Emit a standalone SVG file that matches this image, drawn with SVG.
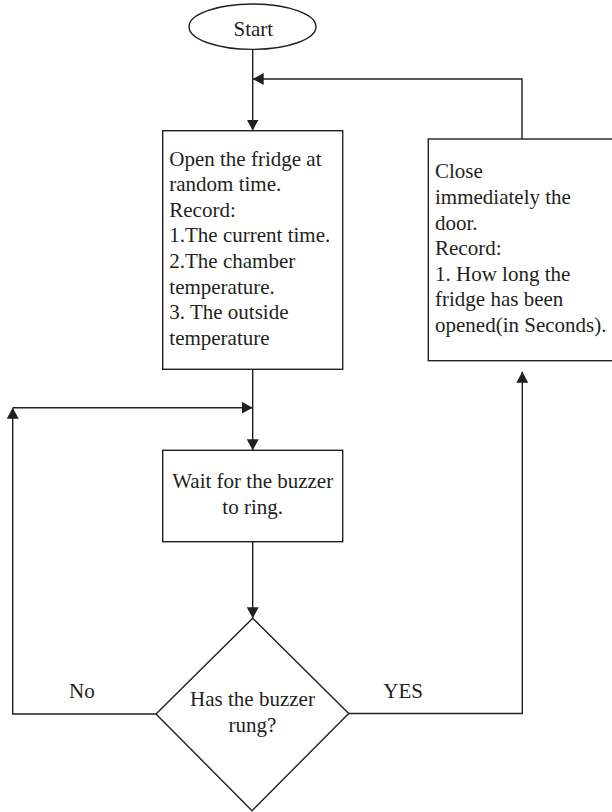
<svg xmlns="http://www.w3.org/2000/svg" width="612" height="812" viewBox="0 0 612 812">
<style>
.shape{fill:#fff;stroke:#231f20;stroke-width:1.4}
.conn{fill:none;stroke:#231f20;stroke-width:1.4}
.t{font-family:"Liberation Serif","Times New Roman",serif;font-size:21px;fill:#231f20}
.c{text-anchor:middle}
</style>
<defs>
<marker id="arr" viewBox="0 0 11 12" refX="11" refY="6" markerWidth="11" markerHeight="12" markerUnits="userSpaceOnUse" orient="auto">
<path d="M0,0 L11,6 L0,12 Z" fill="#231f20"/>
</marker>
</defs>
<rect width="612" height="812" fill="#fff"/>
<g id="connectors">
<path class="conn" d="M252.7,49.3 V130.5" marker-end="url(#arr)"/>
<path class="conn" d="M522,139 V79 H252.7" marker-end="url(#arr)"/>
<path class="conn" d="M252.7,369.3 V450.3" marker-end="url(#arr)"/>
<path class="conn" d="M156,714 H12.7 V407.7" marker-end="url(#arr)"/>
<path class="conn" d="M12.7,407.7 H252.7" marker-end="url(#arr)"/>
<path class="conn" d="M252.7,541.7 V618.3" marker-end="url(#arr)"/>
<path class="conn" d="M348.7,713.5 H522.3 V371.7" marker-end="url(#arr)"/>
</g>
<g id="start">
<ellipse class="shape" cx="252.5" cy="26.7" rx="63.5" ry="22.7"/>
<text class="t c" x="253.3" y="36">Start</text>
</g>
<g id="open-fridge">
<rect class="shape" x="162.7" y="130.7" width="180" height="238.6"/>
<text class="t" x="169.3" y="165.7">Open the fridge at</text>
<text class="t" x="169.3" y="191.2">random time.</text>
<text class="t" x="169.3" y="216.7">Record:</text>
<text class="t" x="169.3" y="242.3">1.The current time.</text>
<text class="t" x="169.3" y="268">2.The chamber</text>
<text class="t" x="169.3" y="293.5">temperature.</text>
<text class="t" x="169.3" y="319">3. The outside</text>
<text class="t" x="169.3" y="344.5">temperature</text>
</g>
<g id="close-door">
<rect class="shape" x="428.3" y="139" width="190" height="221.7"/>
<text class="t" x="435" y="178.3">Close</text>
<text class="t" x="435" y="203.9">immediately the</text>
<text class="t" x="435" y="229.5">door.</text>
<text class="t" x="435" y="255.1">Record:</text>
<text class="t" x="435" y="280.7">1. How long the</text>
<text class="t" x="435" y="306.2">fridge has been</text>
<text class="t" x="435" y="331.7">opened(in Seconds).</text>
</g>
<g id="wait">
<rect class="shape" x="162.7" y="450.3" width="180" height="91.4"/>
<text class="t c" x="252.7" y="488.3">Wait for the buzzer</text>
<text class="t c" x="252.7" y="514">to ring.</text>
</g>
<g id="decision">
<polygon class="shape" points="252.7,618.3 348.7,713.5 252,810.7 156,714"/>
<text class="t c" x="252.5" y="706">Has the buzzer</text>
<text class="t c" x="252.5" y="731.7">rung?</text>
</g>
<g id="labels">
<text class="t" x="69" y="697.7">No</text>
<text class="t" x="383.3" y="698.3">YES</text>
</g>
</svg>
